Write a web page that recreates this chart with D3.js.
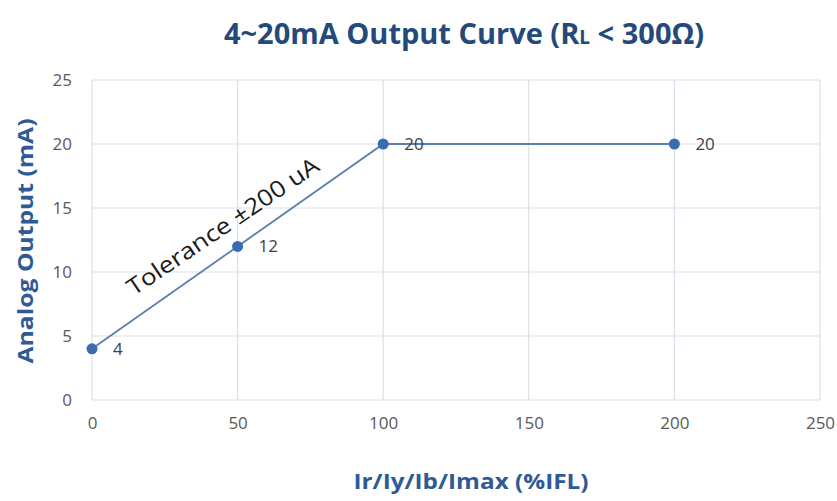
<!DOCTYPE html>
<html><head><meta charset="utf-8">
<script src="https://cdnjs.cloudflare.com/ajax/libs/d3/7.8.5/d3.min.js"></script>
<style>body{margin:0;background:#fff}svg{display:block}</style>
</head><body>
<svg id="c" width="837" height="501"></svg>
<script>
const xValues = [0, 50, 100, 200];
const yValues = [4, 12, 20, 20];
const dataLabels = ["4", "12", "20", "20"];
const xTicks = [0, 50, 100, 150, 200, 250];
const yTicks = [0, 5, 10, 15, 20, 25];
const titleMain = "4~20mA Output Curve (R";
const titleSub = "L";
const titleEnd = " < 300Ω)";
const xTitle = "Ir/Iy/Ib/Imax (%IFL)";
const yTitle = "Analog Output (mA)";
const annotation = "Tolerance ±200 uA";

const svg = d3.select("#c");
const m = {l: 92, r: 17, t: 80, b: 101};
const W = 837, H = 501;
const x = d3.scaleLinear().domain([0, 250]).range([m.l, W - m.r]);
const y = d3.scaleLinear().domain([0, 25]).range([H - m.b, m.t]);
const font = "'Open Sans', 'Noto Sans', sans-serif";

// gridlines
svg.append("g").selectAll("line").data(yTicks).join("line")
  .attr("x1", x(0)).attr("x2", x(250)).attr("y1", d => y(d)).attr("y2", d => y(d))
  .attr("stroke", "#dae2ec").attr("stroke-width", 1.2);
svg.append("g").selectAll("line").data(xTicks).join("line")
  .attr("y1", y(0)).attr("y2", y(25)).attr("x1", d => x(d)).attr("x2", d => x(d))
  .attr("stroke", "#dae2ec").attr("stroke-width", 1.2);

// axes (labels only)
const xAxis = svg.append("g").attr("transform", `translate(0,${y(0)})`)
  .call(d3.axisBottom(x).tickValues(xTicks).tickSize(0).tickPadding(17));
const yAxis = svg.append("g").attr("transform", `translate(${m.l},0)`)
  .call(d3.axisLeft(y).tickValues(yTicks).tickSize(0).tickPadding(20));
[xAxis, yAxis].forEach(a => {
  a.select(".domain").remove();
  a.selectAll("text").attr("font-family", font).attr("font-size", 17).attr("fill", "#595959");
});

// line
const pts = xValues.map((v, i) => [v, yValues[i]]);
svg.append("path").datum(pts)
  .attr("d", d3.line().x(d => x(d[0])).y(d => y(d[1])))
  .attr("fill", "none").attr("stroke", "#5b7fae").attr("stroke-width", 1.8);

svg.append("g").selectAll("circle").data(pts).join("circle")
  .attr("cx", d => x(d[0])).attr("cy", d => y(d[1])).attr("r", 5.5)
  .attr("fill", "#3a6db0");

svg.append("g").selectAll("text").data(pts).join("text")
  .attr("x", d => x(d[0]) + 21).attr("y", (d, i) => y(d[1]) + 6)
  .attr("font-family", font).attr("font-size", 17).attr("fill", "#404040")
  .text((d, i) => dataLabels[i]);

// annotation
const ang = Math.atan2(y(20) - y(4), x(100) - x(0)) * 180 / Math.PI + 1;
svg.append("text")
  .attr("transform", `translate(${x(46.5)},${y(13.05)}) rotate(${ang})`)
  .attr("text-anchor", "middle")
  .attr("font-family", font).attr("font-size", 23).attr("fill", "#1a1a1a")
  .attr("textLength", 226).attr("lengthAdjust", "spacingAndGlyphs")
  .text(annotation);

// titles
const t = svg.append("text").attr("x", 464).attr("y", 44).attr("text-anchor", "middle")
  .attr("font-family", font).attr("font-weight", "bold").attr("font-size", 29).attr("fill", "#244a7c");
t.append("tspan").text(titleMain);
t.append("tspan").attr("font-size", 19).text(titleSub);
t.append("tspan").text(titleEnd);

svg.append("text").attr("x", 471).attr("y", 489).attr("text-anchor", "middle")
  .attr("font-family", font).attr("font-weight", "bold").attr("font-size", 21).attr("fill", "#2e5a95")
  .attr("textLength", 235).attr("lengthAdjust", "spacingAndGlyphs")
  .text(xTitle);

svg.append("text").attr("transform", `translate(33,241) rotate(-90)`).attr("text-anchor", "middle")
  .attr("font-family", font).attr("font-weight", "bold").attr("font-size", 22).attr("fill", "#2e5a95")
  .attr("textLength", 245).attr("lengthAdjust", "spacingAndGlyphs")
  .text(yTitle);
</script>
</body></html>
